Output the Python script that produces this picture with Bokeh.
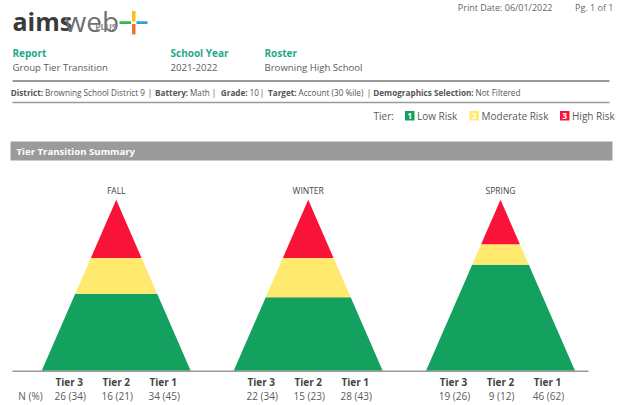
from bokeh.plotting import figure
from bokeh.models import Range1d
from bokeh.core.properties import value
from bokeh.embed import file_html
from bokeh.resources import INLINE

# ---------------- data ----------------
seasons = ["FALL", "WINTER", "SPRING"]
tier_labels = ["Tier 3", "Tier 2", "Tier 1"]
n_tier3 = [26, 22, 19]
pct_tier3 = [34, 34, 26]
n_tier2 = [16, 15, 9]
pct_tier2 = [21, 23, 12]
n_tier1 = [34, 28, 46]
pct_tier1 = [45, 43, 62]
legend_nums = ["1", "2", "3"]
legend_names = ["Low Risk", "Moderate Risk", "High Risk"]

# ---------------- layout / style ----------------
FONT = value("Open Sans")
GREEN, YELLOW, RED = "#14A15F", "#FFE96E", "#FA1338"
TEAL = "#1FA98C"
DARK = "#444444"
MID = "#5a5a5a"

W, H = 618, 405
p = figure(width=W, height=H, x_range=Range1d(0, W), y_range=Range1d(H, 0),
           output_backend="svg", toolbar_location=None, min_border=0,
           x_axis_type=None, y_axis_type=None)
p.grid.visible = False
p.outline_line_color = None
p.background_fill_color = "white"
p.border_fill_color = "white"

# percent scale for pyramids: 0 at base, 100 at apex
BASE_Y, APEX_Y = 370.3, 199.3
b = 100.0 / (APEX_Y - BASE_Y)
a = -b * BASE_Y
p.extra_y_ranges = {"pct": Range1d(start=a + b * H, end=a)}

centers = [115.7, 307.7, 500.0]
HALF = 74.5
label_off = [-47, 0, 47]


def txt(x, y, s, size, color, bold=False, align="left", baseline="middle"):
    p.text(x=[x], y=[y], text=[s], text_font=FONT, text_font_size=f"{size}px",
           text_color=color, text_font_style="bold" if bold else "normal",
           text_align=align, text_baseline=baseline)


# ---------------- header ----------------
txt(12, 20, "aims", 25, "#3a3a3a", bold=True, baseline="alphabetic")
txt(64, 20, "web", 28, "#707070", baseline="alphabetic")
txt(116, 26, "PLUS", 8.5, "#8a8a8a", bold=True, align="right")
# plus sign of logo
p.quad(left=[131.5], right=[135], top=[10.5], bottom=[21], fill_color="#F6C21C", line_color=None)
p.quad(left=[131.5], right=[135], top=[23.5], bottom=[34], fill_color="#EC7430", line_color=None)
p.quad(left=[119], right=[130.5], top=[20.8], bottom=[23.6], fill_color="#3DB54A", line_color=None)
p.quad(left=[136], right=[147], top=[20.8], bottom=[23.6], fill_color="#2BA0DA", line_color=None)

txt(552, 0.5, "Print Date: 06/01/2022", 9, "#666666", align="right", baseline="top")
txt(613, 0.5, "Pg. 1 of 1", 9, "#666666", align="right", baseline="top")

for x, lab, val in [(12, "Report", "Group Tier Transition"),
                    (170, "School Year", "2021-2022"),
                    (264, "Roster", "Browning High School")]:
    txt(x, 52.5, lab, 10, TEAL, bold=True)
    txt(x, 66.5, val, 9.6, MID)

p.segment(x0=[12], x1=[609], y0=[80.5], y1=[80.5], line_color="#9a9a9a", line_width=2)

# district line: (label, value, x of value)
district = [("District:", "Browning School District 9", 44.5),
            ("Battery:", "Math", 189.5),
            ("Grade:", "10", 249),
            ("Target:", "Account (30 %ile)", 298),
            ("Demographics Selection:", "Not Filtered", 475)]
seps = [149.5, 213.5, 261.5, 368.5]
for lab, val, vx in district:
    txt(vx - 1.8, 92, lab, 8.2, "#555555", bold=True, align="right")
    txt(vx, 92, val, 8.2, "#555555")
for sx in seps:
    txt(sx, 92, "|", 8.2, "#555555", align="center")

p.segment(x0=[12], x1=[609], y0=[102], y1=[102], line_color="#9a9a9a", line_width=1.5)

# legend
txt(373, 115, "Tier:", 10, MID)
leg_sq = [404.5, 469, 559.5]
leg_cols = [GREEN, YELLOW, RED]
for sx, col, num, name in zip(leg_sq, leg_cols, legend_nums, legend_names):
    p.quad(left=[sx], right=[sx + 9.5], top=[110.5], bottom=[120], fill_color=col, line_color=None)
    txt(sx + 4.75, 115.8, num, 8.5, "white", bold=True, align="center")
    txt(sx + 12, 115, name, 10, MID)

# section bar
p.quad(left=[10], right=[612], top=[141], bottom=[160], fill_color="#9b9b9b", line_color=None)
txt(16, 150.5, "Tier Transition Summary", 9.6, "white", bold=True)

# ---------------- pyramids ----------------
for i, season in enumerate(seasons):
    c = centers[i]
    layers = [(pct_tier1[i], GREEN), (pct_tier2[i], YELLOW), (pct_tier3[i], RED)]
    total = float(pct_tier1[i] + pct_tier2[i] + pct_tier3[i])
    lo = 0.0
    xs, ys, cols = [], [], []
    for v, col in layers:
        hi = lo + v
        sc = 100.0 / total
        w_lo = HALF * (1 - lo / total)
        w_hi = HALF * (1 - hi / total)
        xs.append([c - w_lo, c + w_lo, c + w_hi, c - w_hi])
        ys.append([lo * sc, lo * sc, hi * sc, hi * sc])
        cols.append(col)
        lo = hi
    p.patches(xs=xs, ys=ys, fill_color=cols, line_color=None, y_range_name="pct")
    txt(c, 190, season, 8.5, DARK, align="center")

    vals = [f"{n_tier3[i]} ({pct_tier3[i]})", f"{n_tier2[i]} ({pct_tier2[i]})", f"{n_tier1[i]} ({pct_tier1[i]})"]
    for off, tl, vs in zip(label_off, tier_labels, vals):
        txt(c + off, 381, tl, 10, DARK, bold=True, align="center")
        txt(c + off + 1, 395.5, vs, 10, MID, align="center")

p.segment(x0=[12], x1=[588], y0=[370.8], y1=[370.8], line_color="#999999", line_width=1.5)
txt(30, 395.5, "N (%)", 10, MID, align="center")

open("out.html", "w").write(file_html(p, INLINE))
